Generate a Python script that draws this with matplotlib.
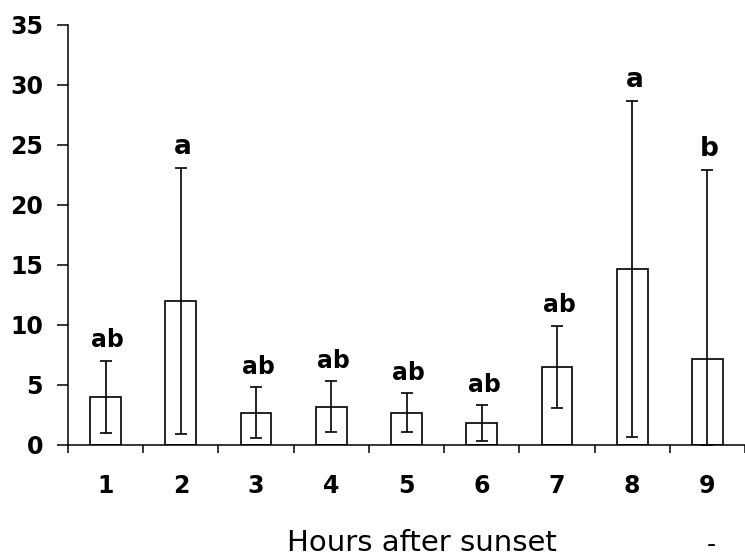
import numpy as np
import matplotlib.pyplot as plt

hours = [1, 2, 3, 4, 5, 6, 7, 8, 9]
means = [4.0, 12.0, 2.7, 3.2, 2.7, 1.8, 6.5, 14.7, 7.2]
errors = [3.0, 11.1, 2.1, 2.1, 1.6, 1.5, 3.4, 14.0, 15.7]
letters = ["ab", "a", "ab", "ab", "ab", "ab", "ab", "a", "b"]
y_ticks = [0, 5, 10, 15, 20, 25, 30, 35]

plt.rcParams['font.family'] = ['DejaVu Sans']

x = np.array(hours)
m = np.array(means)
e = np.array(errors)
lower = np.minimum(e, m)  # error bars stop at zero

fig = plt.figure(figsize=(7.45, 5.58), dpi=100)
ax = fig.add_axes([68 / 745, 113 / 558, 677 / 745, 420 / 558])

ax.bar(x, m, width=0.41, color='white', edgecolor='black', linewidth=1.2, zorder=2)
ax.errorbar(x, m, yerr=[lower, e], fmt='none', ecolor='black', elinewidth=1.2,
            capsize=4.3, capthick=1.2, zorder=3)

# single letters are drawn a bit larger in the original
for xi, top, lab in zip(x, m + e, letters):
    size = 17 if len(lab) > 1 else 19
    ax.annotate(lab, (xi + 0.03, top), xytext=(0, 10), textcoords='offset points',
                ha='center', va='baseline', fontsize=size, fontweight='bold')

ax.set_xlim(0.5, 9.455)
ax.set_ylim(0, 35)

ax.set_xticks(np.arange(0.5, 10, 1))
ax.set_xticklabels([])
ax.set_xticks(x, minor=True)
ax.set_xticklabels([str(h) for h in hours], minor=True, fontsize=17, fontweight='bold')
ax.tick_params(axis='x', which='major', length=6, width=1.1, direction='out')
ax.tick_params(axis='x', which='minor', length=0, pad=21)

ax.set_yticks(y_ticks)
ax.set_yticklabels([str(v) for v in y_ticks], fontsize=17, fontweight='bold')
ax.tick_params(axis='y', length=8, width=1.1, pad=10)

for side in ['top', 'right']:
    ax.spines[side].set_visible(False)
for side in ['left', 'bottom']:
    ax.spines[side].set_linewidth(1.1)

fig.text(422 / 745, 15 / 558, "Hours after sunset", ha='center', va='center', fontsize=21)
fig.text(711 / 745, 1 / 558, "-", ha='center', va='bottom', fontsize=18)

fig.savefig("out.png", dpi=100)
